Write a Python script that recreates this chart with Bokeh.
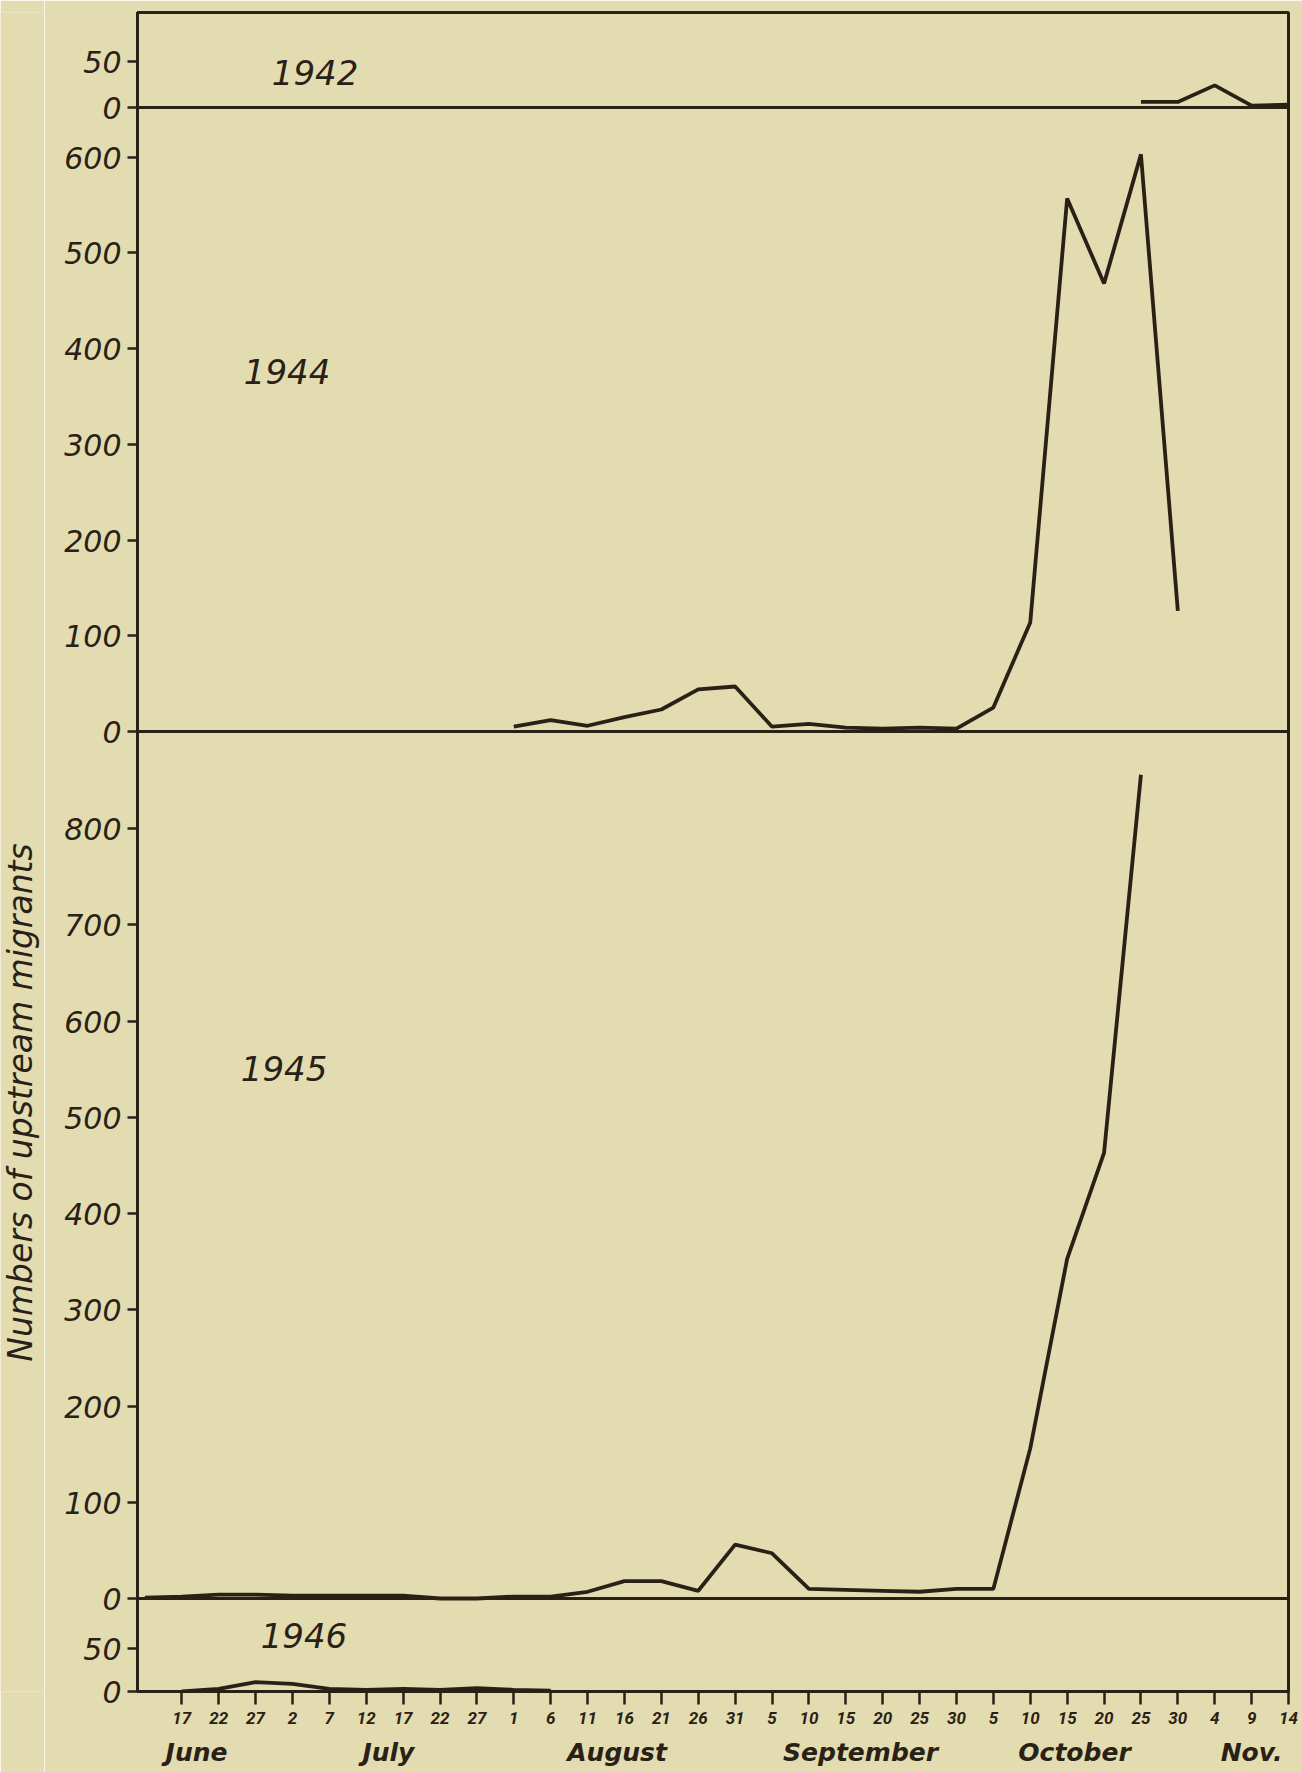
import math
import pandas as pd
from bokeh.plotting import figure
from bokeh.layouts import row
from bokeh.models import Range1d, LinearAxis, FixedTicker, Span, Label
from bokeh.embed import file_html
from bokeh.resources import INLINE

# ---------------- data ----------------
dates_1942 = ["10-25", "10-30", "11-04", "11-09", "11-14"]
counts_1942 = [6, 6, 24, 2, 3]

dates_1944 = ["08-01", "08-06", "08-11", "08-16", "08-21", "08-26", "08-31",
              "09-05", "09-10", "09-15", "09-20", "09-25", "09-30",
              "10-05", "10-10", "10-15", "10-20", "10-25", "10-30"]
counts_1944 = [5, 12, 6, 15, 23, 44, 47,
               5, 8, 4, 3, 4, 3,
               25, 114, 557, 468, 603, 126]

dates_1945 = ["06-12", "06-17", "06-22", "06-27", "07-02", "07-07", "07-12",
              "07-17", "07-22", "07-27", "08-01", "08-06", "08-11", "08-16",
              "08-21", "08-26", "08-31", "09-05", "09-10", "09-15", "09-20",
              "09-25", "09-30", "10-05", "10-10", "10-15", "10-20", "10-25"]
counts_1945 = [1, 2, 4, 4, 3, 3, 3,
               3, 0, 0, 2, 2, 7, 18,
               18, 8, 56, 47, 10, 9, 8,
               7, 10, 10, 156, 353, 463, 856]

dates_1946 = ["06-17", "06-22", "06-27", "07-02", "07-07", "07-12",
              "07-17", "07-22", "07-27", "08-01", "08-06"]
counts_1946 = [0, 3, 11, 9, 3, 2, 3, 2, 4, 2, 1]

y_ticks_1942 = [0, 50]
y_ticks_1944 = [0, 100, 200, 300, 400, 500, 600]
y_ticks_1945 = [0, 100, 200, 300, 400, 500, 600, 700, 800]
y_ticks_1946 = [0, 50]

x_tick_dates = ["06-17", "06-22", "06-27", "07-02", "07-07", "07-12", "07-17",
                "07-22", "07-27", "08-01", "08-06", "08-11", "08-16", "08-21",
                "08-26", "08-31", "09-05", "09-10", "09-15", "09-20", "09-25",
                "09-30", "10-05", "10-10", "10-15", "10-20", "10-25", "10-30",
                "11-04", "11-09", "11-14"]
x_tick_labels = ["17", "22", "27", "2", "7", "12", "17", "22", "27", "1", "6",
                 "11", "16", "21", "26", "31", "5", "10", "15", "20", "25", "30",
                 "5", "10", "15", "20", "25", "30", "4", "9", "14"]

month_names = ["June", "July", "August", "September", "October", "Nov."]
month_centers = ["06-19", "07-15", "08-15", "09-17", "10-16", "11-09"]

y_title = "Numbers of upstream migrants"

# ---------------- layout / style ----------------
PAPER = "#e3dcb0"
INK = "#2a2116"
W, H = 1302, 1772
TITLE_W = 44
FRAME_H = 1679
BORDER_TOP, BORDER_BOTTOM = 12, 81
TITLE_CENTER = 589          # px above the frame bottom
# panels from bottom to top: (name, top value of panel, panel height in px)
PANELS = [("1946", 109, 93), ("1945", 901, 867), ("1944", 652, 624), ("1942", 103, 95)]
SERIES = {"1942": (dates_1942, counts_1942, y_ticks_1942),
          "1944": (dates_1944, counts_1944, y_ticks_1944),
          "1945": (dates_1945, counts_1945, y_ticks_1945),
          "1946": (dates_1946, counts_1946, y_ticks_1946)}
YEAR_LABEL_POS = {"1942": (12.2, 38), "1944": (8.4, 376),
                  "1945": (8.0, 551), "1946": (10.7, 66)}


def day(md):
    return (pd.Timestamp(f"2000-{md}") - pd.Timestamp("2000-06-17")).days


# narrow strip carrying the vertical y title
tf = figure(width=TITLE_W, height=H, x_range=Range1d(0, TITLE_W),
            y_range=Range1d(0, FRAME_H), output_backend="svg",
            toolbar_location=None, x_axis_location=None, y_axis_location=None,
            min_border_left=0, min_border_right=0,
            min_border_top=BORDER_TOP, min_border_bottom=BORDER_BOTTOM,
            background_fill_color=PAPER, border_fill_color=PAPER,
            outline_line_color=None)
tf.xgrid.visible = False
tf.ygrid.visible = False
tf.add_layout(Label(x=20, y=TITLE_CENTER, text=y_title, angle=math.pi / 2,
                    text_align="center", text_baseline="middle",
                    text_font="DejaVu Sans", text_font_style="italic",
                    text_font_size="33px", text_color=INK))

p = figure(width=W - TITLE_W, height=H,
           x_range=Range1d(-6, 150), y_range=Range1d(0, FRAME_H),
           output_backend="svg", toolbar_location=None,
           min_border_left=137 - TITLE_W, min_border_right=14,
           min_border_top=BORDER_TOP, min_border_bottom=BORDER_BOTTOM,
           background_fill_color=PAPER, border_fill_color=PAPER,
           outline_line_color=INK, outline_line_width=3)
p.xgrid.visible = False
p.ygrid.visible = False

extra = {}
ytick_pos = []
ytick_over = {}
bottom = 0
for name, top, h in PANELS:
    s = h / top
    extra[name] = Range1d(-bottom / s, (FRAME_H - bottom) / s)
    for v in SERIES[name][2]:
        pos = int(round(bottom + v * s))
        ytick_pos.append(pos)
        ytick_over[pos] = str(v)
    bottom += h
p.extra_y_ranges = extra

for name, (dates, counts, _) in SERIES.items():
    p.line([day(d) for d in dates], counts, y_range_name=name,
           line_color=INK, line_width=3.8)
    if name != "1946":
        p.add_layout(Span(location=0, dimension="width", y_range_name=name,
                          line_color=INK, line_width=3))
    lx, ly = YEAR_LABEL_POS[name]
    p.add_layout(Label(x=lx, y=ly, y_range_name=name, text=name,
                       text_align="left", text_baseline="middle",
                       text_font="DejaVu Sans", text_font_style="italic",
                       text_font_size="34px", text_color=INK))

# y axis
yax = p.yaxis[0]
yax.ticker = FixedTicker(ticks=ytick_pos)
yax.major_label_overrides = ytick_over
yax.minor_tick_line_color = None
yax.major_tick_in = 0
yax.major_tick_out = 10
yax.major_tick_line_width = 2.5
yax.major_tick_line_color = INK
yax.axis_line_width = 3
yax.axis_line_color = INK
yax.major_label_standoff = 6
yax.major_label_text_font = "DejaVu Sans"
yax.major_label_text_font_style = "italic"
yax.major_label_text_font_size = "30px"
yax.major_label_text_color = INK

# x axis (day ticks)
xt = [day(d) for d in x_tick_dates]
xax = p.xaxis[0]
xax.ticker = FixedTicker(ticks=xt)
xax.major_label_overrides = dict(zip(xt, x_tick_labels))
xax.minor_tick_line_color = None
xax.major_tick_in = 0
xax.major_tick_out = 13
xax.major_tick_line_width = 2.5
xax.major_tick_line_color = INK
xax.axis_line_width = 3
xax.axis_line_color = INK
xax.major_label_standoff = 7
xax.major_label_text_font = "Roboto"
xax.major_label_text_font_style = "bold italic"
xax.major_label_text_font_size = "17px"
xax.major_label_text_color = INK

# month names row
mt = [day(d) for d in month_centers]
month_axis = LinearAxis(ticker=FixedTicker(ticks=mt),
                        major_label_overrides=dict(zip(mt, month_names)),
                        axis_line_color=None, major_tick_line_color=None,
                        minor_tick_line_color=None, major_tick_in=0,
                        major_tick_out=0, major_label_standoff=11,
                        major_label_text_font="DejaVu Sans",
                        major_label_text_font_style="bold italic",
                        major_label_text_font_size="25px",
                        major_label_text_color=INK)
p.add_layout(month_axis, "below")

layout = row(tf, p, spacing=0)
open("out.html", "w").write(file_html(layout, INLINE))
